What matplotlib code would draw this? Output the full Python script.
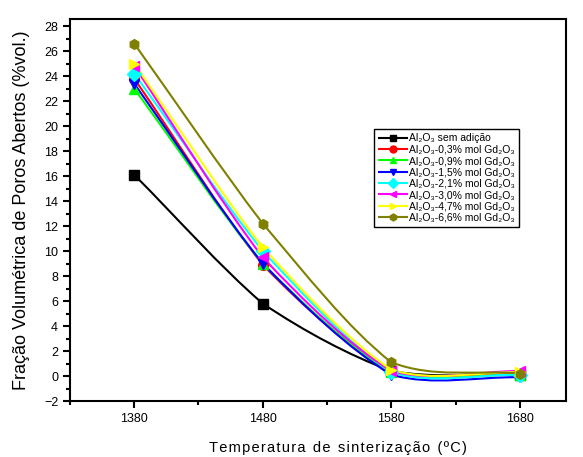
import numpy
import matplotlib
matplotlib.use('Agg')
import matplotlib.pyplot
import matplotlib.lines
import matplotlib.patches
from matplotlib.path import Path

# data
temps = [1380, 1480, 1580, 1680]
semAdicao = [16.1, 5.8, 0.4, 0.1]
gd03 = [23.8, 8.9, 0.3, 0.2]
gd09 = [23.0, 9.0, 0.3, 0.1]
gd15 = [23.4, 9.0, 0.1, -0.1]
gd21 = [24.2, 10.0, 0.3, 0.1]
gd30 = [24.8, 9.5, 0.4, 0.4]
gd47 = [25.0, 10.3, 0.5, 0.3]
gd66 = [26.6, 12.2, 1.1, 0.2]

labels = ['Al\u2082O\u2083 sem adição',
          'Al\u2082O\u2083-0,3% mol Gd\u2082O\u2083',
          'Al\u2082O\u2083-0,9% mol Gd\u2082O\u2083',
          'Al\u2082O\u2083-1,5% mol Gd\u2082O\u2083',
          'Al\u2082O\u2083-2,1% mol Gd\u2082O\u2083',
          'Al\u2082O\u2083-3,0% mol Gd\u2082O\u2083',
          'Al\u2082O\u2083-4,7% mol Gd\u2082O\u2083',
          'Al\u2082O\u2083-6,6% mol Gd\u2082O\u2083']
series = [semAdicao, gd03, gd09, gd15, gd21, gd30, gd47, gd66]
colors = ['black', 'red', '#00ff00', 'blue', 'cyan', 'magenta', 'yellow', '#808000']
markers = ['s', 'o', '^', 'v', 'D', '<', '>', 'h']


def splinePath(x, y, tension=0.6):
    """splinePath returns a softened Catmull-Rom bezier path through the points"""
    pts = numpy.column_stack((x, y)).astype(float)
    n = len(pts)
    tang = numpy.zeros_like(pts)
    tang[0] = pts[1] - pts[0]
    tang[-1] = pts[-1] - pts[-2]
    for i in range(1, n - 1):
        tang[i] = (pts[i + 1] - pts[i - 1]) / 2.0
    verts = [pts[0]]
    codes = [Path.MOVETO]
    for i in range(n - 1):
        d = pts[i + 1] - pts[i]
        t0 = tension * tang[i] + (1 - tension) * d
        t1 = tension * tang[i + 1] + (1 - tension) * d
        verts += [pts[i] + t0 / 3.0, pts[i + 1] - t1 / 3.0, pts[i + 1]]
        codes += [Path.CURVE4] * 3
    return Path(verts, codes)


matplotlib.pyplot.rcParams['font.family'] = ['Liberation Sans', 'DejaVu Sans']

fig = matplotlib.pyplot.figure(figsize=(5.83, 4.57), dpi=100)
ax = fig.add_axes([0.120, 0.1225, 0.851, 0.8355])

handles = []
for vals, c, m, lab in zip(series, colors, markers, labels):
    patch = matplotlib.patches.PathPatch(splinePath(temps, vals), fill=False,
                                         edgecolor=c, linewidth=1.5, zorder=2)
    ax.add_patch(patch)
    ax.plot(temps, vals, linestyle='none', marker=m, color=c, markersize=7,
            markeredgecolor=c, zorder=3)
    handles.append(matplotlib.lines.Line2D([], [], color=c, marker=m, markersize=5,
                                           linewidth=1.5, label=lab))

ax.set_xlim(1330, 1716)
ax.set_ylim(-2, 28.55)
ax.set_xticks([1380, 1480, 1580, 1680])
ax.set_xticks([1330, 1430, 1530, 1630], minor=True)
ax.set_yticks(numpy.arange(-2, 29, 2))
ax.set_yticks(numpy.arange(-1, 29, 2), minor=True)
ax.tick_params(which='major', direction='out', length=5, width=1.5, labelsize=9,
               top=False, right=False)
ax.tick_params(which='minor', direction='out', length=3, width=1.5, top=False, right=False)
for s in ax.spines.values():
    s.set_linewidth(1.5)

xtitle = 'Temperatura de sinterização (ºC)'
xtitle = '\u2002'.join('\u200a'.join(w) for w in xtitle.split(' '))
ax.set_xlabel(xtitle, fontsize=10.5, labelpad=12)
ax.xaxis.label.set_x(0.54)
ax.set_ylabel('Fração Volumétrica de Poros Abertos (%vol.)', fontsize=13, labelpad=10)

leg = ax.legend(handles=handles, loc='upper left', bbox_to_anchor=(0.603, 0.727),
                fontsize=7.5, frameon=True, fancybox=False, edgecolor='black',
                framealpha=1, handlelength=2.7, handletextpad=0.15, labelspacing=0.13,
                borderpad=0.45)
leg.get_frame().set_linewidth(1.0)

fig.savefig('out.png', dpi=100)
